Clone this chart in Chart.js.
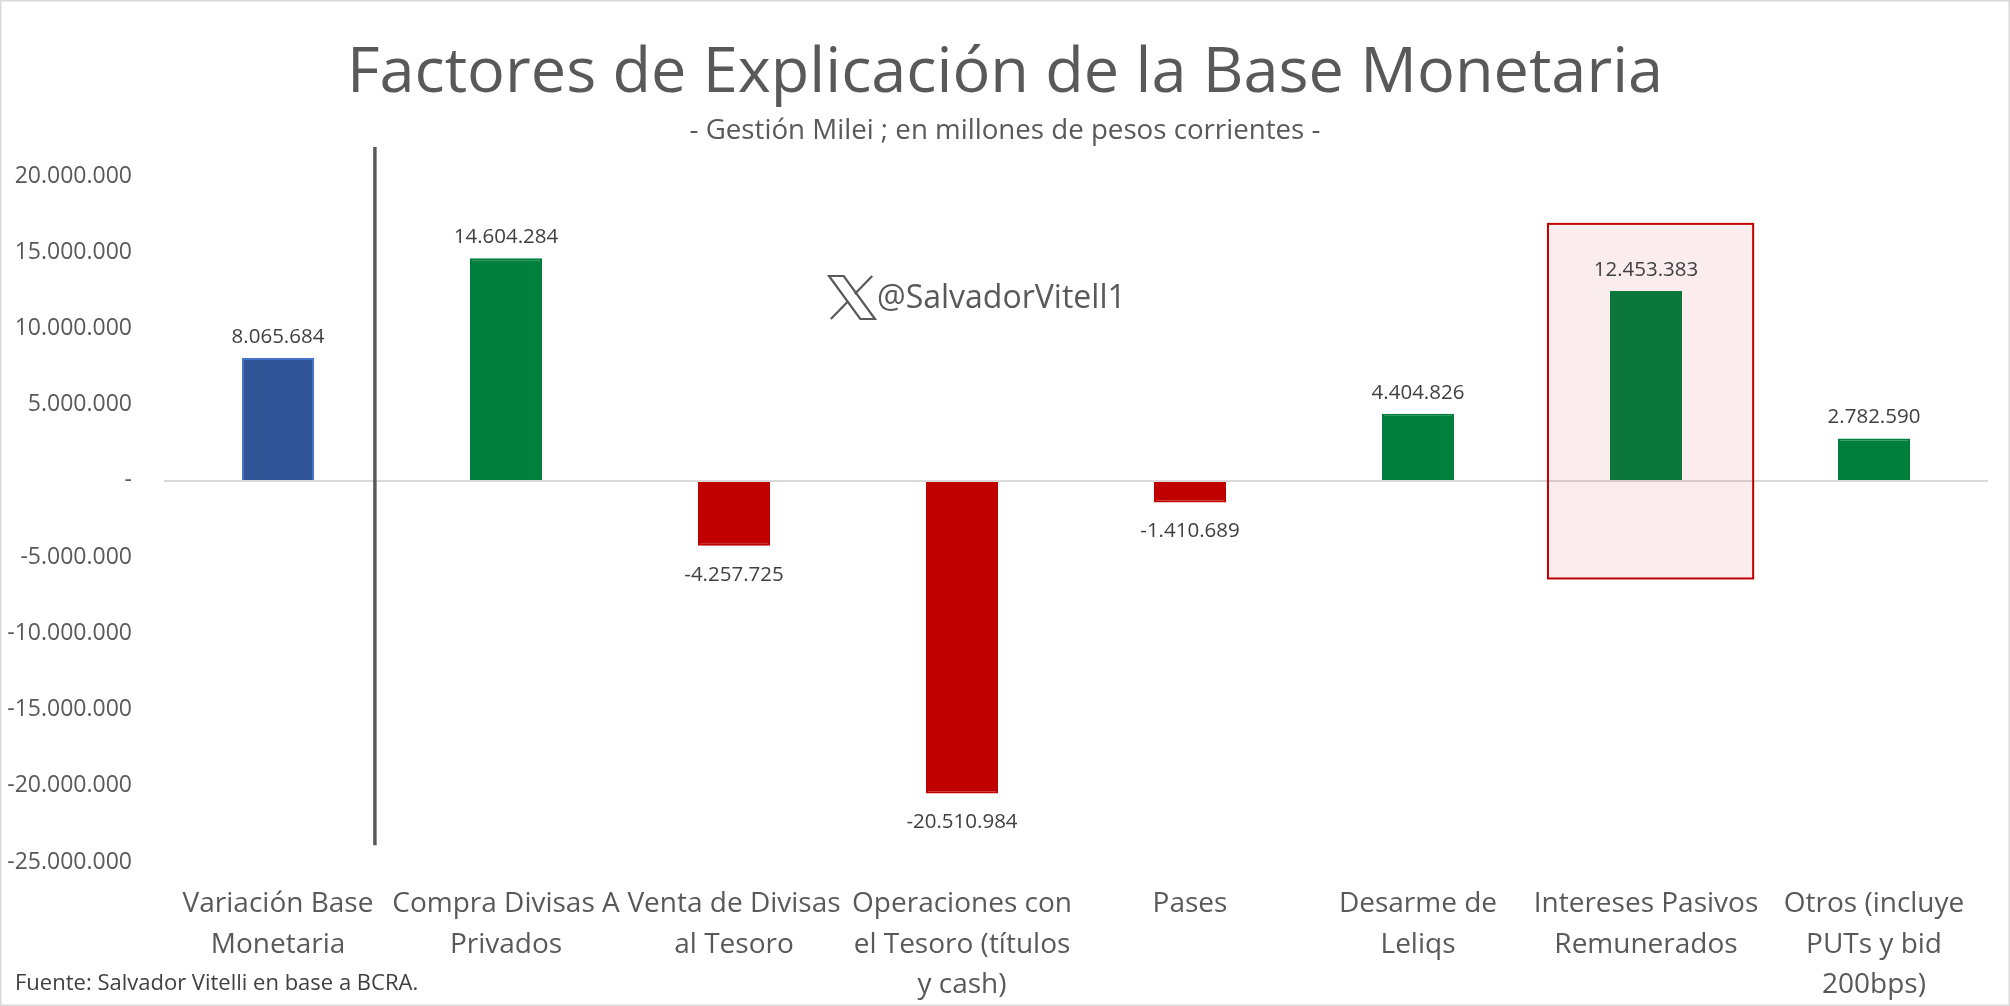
<!DOCTYPE html>
<html>
<head>
<meta charset="utf-8">
<script src="https://cdn.jsdelivr.net/npm/chart.js@4.4.1/dist/chart.umd.min.js"></script>
<style>
  html, body { margin: 0; padding: 0; background: #fff; }
  #grafico { display: block; }
</style>
</head>
<body>
<canvas id="grafico" width="2010" height="1006"></canvas>
<script>
// datos del grafico
const categorias = [
    ["Variación Base", "Monetaria"],
    ["Compra Divisas A", "Privados"],
    ["Venta de Divisas", "al Tesoro"],
    ["Operaciones con", "el Tesoro (títulos", "y cash)"],
    ["Pases"],
    ["Desarme de", "Leliqs"],
    ["Intereses Pasivos", "Remunerados"],
    ["Otros (incluye", "PUTs y bid", "200bps)"]
];
const valores = [8065684, 14604284, -4257725, -20510984, -1410689, 4404826, 12453383, 2782590];
const coloresBarras = ["#2F5597", "#00803C", "#C00000", "#C00000", "#C00000", "#00803C", "#0B773B", "#00803C"];
const bordesBarras = ["#4472C4", "#00803C", "#C00000", "#C00000", "#C00000", "#00803C", "#0B773B", "#00803C"];

const ejeMin = -25000000;
const ejeMax = 20000000;
const ejePaso = 5000000;

const titulo = "Factores de Explicación de la Base Monetaria";
const subtitulo = "- Gestión Milei ; en millones de pesos corrientes -";
const fuente = "Fuente: Salvador Vitelli en base a BCRA.";
const marcaAgua = "@SalvadorVitell1";

// recuadro resaltado (categoria 6) y linea separadora
const recuadroCategoria = 6;
const recuadroDesde = -0.43, recuadroHasta = 0.47;
const recuadroArriba = 16860000, recuadroAbajo = -6400000;
const separadorPos = 0.425;
const separadorArriba = 21900000, separadorAbajo = -23900000;

const FUENTE = "'Open Sans', 'Noto Sans', sans-serif";

function formatear(v) {
    if (v === 0) return "-";
    const s = Math.abs(Math.round(v)).toString().replace(/\B(?=(\d{3})+(?!\d))/g, ".");
    return (v < 0 ? "-" : "") + s;
}

const pluginDecoracion = {
    id: "decoracion",
    beforeDatasetsDraw(chart) {
        const { ctx, scales: { x, y } } = chart;
        const paso = x.getPixelForValue(1) - x.getPixelForValue(0);
        const cx = x.getPixelForValue(recuadroCategoria);
        const x1 = cx + recuadroDesde * paso;
        const x2 = cx + recuadroHasta * paso;
        const y1 = y.getPixelForValue(recuadroArriba);
        const y2 = y.getPixelForValue(recuadroAbajo);
        ctx.save();
        ctx.fillStyle = "rgba(192,0,0,0.07)";
        ctx.fillRect(x1, y1, x2 - x1, y2 - y1);
        ctx.strokeStyle = "#C00000";
        ctx.lineWidth = 2;
        ctx.strokeRect(x1, y1, x2 - x1, y2 - y1);
        ctx.restore();
    },
    afterDatasetsDraw(chart) {
        const { ctx, scales: { x, y } } = chart;
        const paso = x.getPixelForValue(1) - x.getPixelForValue(0);
        ctx.save();
        // separador vertical
        const sx = x.getPixelForValue(0) + separadorPos * paso;
        ctx.strokeStyle = "#595959";
        ctx.lineWidth = 3.5;
        ctx.beginPath();
        ctx.moveTo(sx, y.getPixelForValue(separadorArriba));
        ctx.lineTo(sx, y.getPixelForValue(separadorAbajo));
        ctx.stroke();

        // etiquetas de datos
        ctx.font = "20.5px " + FUENTE;
        ctx.fillStyle = "#404040";
        ctx.textAlign = "center";
        ctx.textBaseline = "middle";
        chart.getDatasetMeta(0).data.forEach((barra, i) => {
            const v = valores[i];
            const ty = v >= 0 ? barra.y - 21 : barra.y + 29;
            ctx.fillText(formatear(v), barra.x, ty);
        });
        ctx.restore();
    },
    afterDraw(chart) {
        const { ctx, width, height } = chart;
        ctx.save();
        ctx.fillStyle = "#595959";
        ctx.textAlign = "center";
        ctx.textBaseline = "middle";
        ctx.font = "400 63px " + FUENTE;
        ctx.fillText(titulo, width / 2, 74);
        ctx.font = "27.7px " + FUENTE;
        ctx.fillText(subtitulo, width / 2, 131);

        // marca de agua con logo X
        const lx = 829, ly = 276, lw = 46, lh = 43;
        ctx.strokeStyle = "#595959";
        ctx.lineWidth = 2.2;
        ctx.beginPath();
        ctx.moveTo(lx, ly);
        ctx.lineTo(lx + lw * 0.32, ly);
        ctx.lineTo(lx + lw, ly + lh);
        ctx.lineTo(lx + lw * 0.68, ly + lh);
        ctx.closePath();
        ctx.stroke();
        ctx.beginPath();
        ctx.moveTo(lx + lw * 0.04, ly + lh);
        ctx.lineTo(lx + lw * 0.42, ly + lh * 0.58);
        ctx.moveTo(lx + lw * 0.56, ly + lh * 0.42);
        ctx.lineTo(lx + lw * 0.94, ly);
        ctx.stroke();
        ctx.textAlign = "left";
        ctx.font = "32px " + FUENTE;
        ctx.fillText(marcaAgua, 877, 299);

        // fuente
        ctx.fillStyle = "#404040";
        ctx.font = "22px " + FUENTE;
        ctx.fillText(fuente, 15, 984);

        // borde exterior
        ctx.strokeStyle = "#D9D9D9";
        ctx.lineWidth = 1.5;
        ctx.strokeRect(0.75, 0.75, width - 1.5, height - 1.5);
        ctx.restore();
    }
};

const ctx = document.getElementById("grafico");

new Chart(ctx, {
    type: "bar",
    data: {
        labels: categorias,
        datasets: [{
            data: valores,
            backgroundColor: coloresBarras,
            borderColor: bordesBarras,
            borderWidth: 2,
            barPercentage: 0.316,
            categoryPercentage: 1
        }]
    },
    options: {
        responsive: false,
        animation: false,
        devicePixelRatio: 1,
        layout: { padding: { top: 176, right: 22, bottom: 0, left: 0 } },
        plugins: {
            legend: { display: false },
            tooltip: { enabled: false }
        },
        scales: {
            x: {
                grid: { display: false, drawTicks: false },
                border: { display: false },
                ticks: {
                    color: "#595959",
                    font: { family: FUENTE, size: 28, lineHeight: 1.45 },
                    padding: 22,
                    maxRotation: 0,
                    autoSkip: false
                },
                afterFit(scale) { scale.height = 144; }
            },
            y: {
                min: ejeMin,
                max: ejeMax,
                grid: {
                    drawTicks: false,
                    lineWidth: 2,
                    color: c => c.tick.value === 0 ? "#D9D9D9" : "rgba(0,0,0,0)"
                },
                border: { display: false },
                ticks: {
                    stepSize: ejePaso,
                    color: "#595959",
                    font: { family: FUENTE, size: 23 },
                    padding: 32,
                    callback: v => formatear(v)
                },
                afterFit(scale) { scale.width = 164; }
            }
        }
    },
    plugins: [pluginDecoracion]
});
</script>
</body>
</html>
